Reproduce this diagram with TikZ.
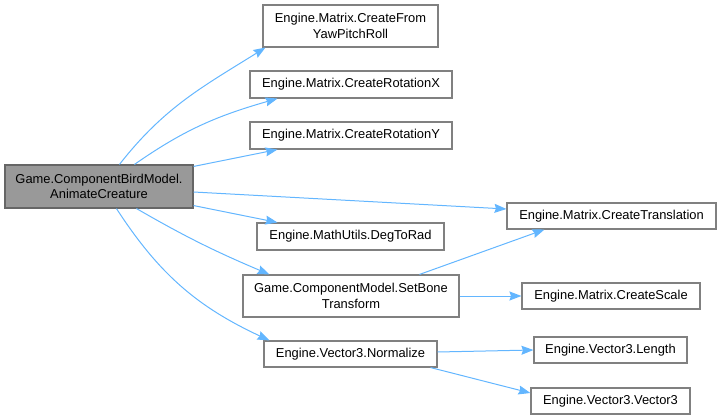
\documentclass[tikz,border=0pt]{standalone}
\usepackage{fontspec}
\setmainfont{Liberation Sans}
\usetikzlibrary{arrows.meta,calc}
\definecolor{edgeblue}{RGB}{99,182,255}
\definecolor{boxborder}{RGB}{128,128,128}
\definecolor{mainfill}{RGB}{153,153,153}
\definecolor{mainborder}{RGB}{102,102,102}
\tikzset{
  fn/.style={draw=boxborder, line width=1.1pt, fill=white, inner sep=0pt, align=center,
    font=\fontsize{12.9}{15.5}\selectfont, text=black},
  mainfn/.style={fn, fill=mainfill, draw=mainborder},
  call/.style={draw=edgeblue, line width=1pt, -{Stealth[length=12pt,width=9pt,inset=1.5pt]}},
}
\begin{document}
\begin{tikzpicture}[x=1pt,y=1pt]
\useasboundingbox (0,0) rectangle (721,-420);
\node[mainfn, minimum width=188pt, minimum height=43pt] (main) at (99,-186.5) {Game.ComponentBirdModel.\\AnimateCreature};
\node[fn, minimum width=175pt, minimum height=42pt] (ypr) at (350.5,-26) {Engine.Matrix.CreateFrom\\YawPitchRoll};
\node[fn, minimum width=202pt, minimum height=27pt] (rotx) at (351,-84.5) {Engine.Matrix.CreateRotationX};
\node[fn, minimum width=202pt, minimum height=27pt] (roty) at (351,-135.5) {Engine.Matrix.CreateRotationY};
\node[fn, minimum width=187pt, minimum height=27pt] (deg) at (350.5,-236.5) {Engine.MathUtils.DegToRad};
\node[fn, minimum width=216pt, minimum height=42pt] (bone) at (351,-296) {Game.ComponentModel.SetBone\\Transform};
\node[fn, minimum width=173pt, minimum height=26pt] (norm) at (350.5,-354) {Engine.Vector3.Normalize};
\node[fn, minimum width=209pt, minimum height=26pt] (trans) at (611.5,-216) {Engine.Matrix.CreateTranslation};
\node[fn, minimum width=178pt, minimum height=26pt] (scale) at (611,-296) {Engine.Matrix.CreateScale};
\node[fn, minimum width=153pt, minimum height=26pt] (len) at (610.5,-350) {Engine.Vector3.Length};
\node[fn, minimum width=159pt, minimum height=26pt] (vec) at (610.5,-401) {Engine.Vector3.Vector3};

\draw[call] ($(main.north west)+(115,0)$) to[out=52,in=212] ($(ypr.south west)+(3,0)$);
\draw[call] ($(main.north west)+(130,0)$) to[out=35,in=196] ($(rotx.south west)+(28,0)$);
\draw[call] ($(main.north east)+(0,-2)$) -- ($(roty.south west)+(28,0)$);
\draw[call] ($(main.east)+(0,-5.5)$) -- ($(trans.west)+(0,7)$);
\draw[call] ($(main.south east)+(0,3)$) -- ($(deg.north west)+(21,0)$);
\draw[call] ($(main.south west)+(132,0)$) to[out=-30,in=157] ($(bone.north west)+(27,0)$);
\draw[call] ($(main.south west)+(112,0)$) to[out=-57,in=155] ($(norm.north west)+(6,0)$);
\draw[call] ($(bone.north west)+(177,0)$) -- ($(trans.south west)+(38,0)$);
\draw[call] (bone.east) -- (scale.west);
\draw[call] ($(norm.east)+(0,2)$) -- (len.west);
\draw[call] ($(norm.south east)+(-7,0)$) -- ($(vec.west)+(0,8)$);
\end{tikzpicture}
\end{document}
